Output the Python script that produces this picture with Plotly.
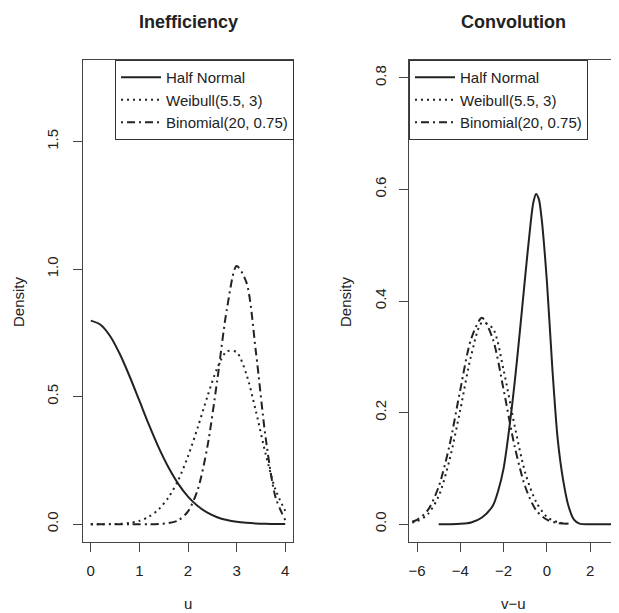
import plotly.graph_objects as go

# Left panel: densities of the inefficiency term u
u_grid = [0.0, 0.2, 0.4, 0.6, 0.8, 1.0, 1.2, 1.4, 1.6, 1.8, 2.0,
          2.2, 2.4, 2.6, 2.8, 3.0, 3.2, 3.4, 3.6, 3.8, 4.0]
halfnormal_u = [0.798, 0.782, 0.737, 0.666, 0.579, 0.484, 0.388, 0.299, 0.222, 0.158, 0.108,
                0.071, 0.045, 0.027, 0.016, 0.009, 0.005, 0.0025, 0.0012, 0.0006, 0.0003]
weibull_u = [0.0, 0.0, 0.0002, 0.0013, 0.0048, 0.013, 0.0295, 0.0585, 0.105, 0.173, 0.266,
             0.379, 0.501, 0.611, 0.678, 0.674, 0.589, 0.440, 0.273, 0.135, 0.052]
binomial_u = [0.0, 0.0, 0.0, 0.0, 0.0, 0.0, 0.0, 0.001, 0.004, 0.015, 0.050,
              0.135, 0.305, 0.562, 0.843, 1.012, 0.949, 0.670, 0.335, 0.106, 0.016]

# Right panel: densities of the composed error v-u
hn_x = [-5.0, -4.5, -4.0, -3.5, -3.0, -2.5, -2.25, -2.0, -1.75, -1.5, -1.25, -1.0, -0.75,
        -0.625, -0.5, -0.375, -0.25, 0.0, 0.25, 0.5, 0.75, 1.0, 1.25, 1.5, 2.0, 2.5, 3.0, 3.5]
hn_conv = [0.0, 0.0, 0.0005, 0.003, 0.012, 0.033, 0.060, 0.100, 0.168, 0.250, 0.345, 0.445, 0.540,
           0.577, 0.592, 0.583, 0.550, 0.435, 0.280, 0.152, 0.079, 0.032, 0.008, 0.001,
           0.0, 0.0, 0.0, 0.0]

cv_x = [-6.5, -6.0, -5.5, -5.0, -4.5, -4.0, -3.5, -3.0, -2.5, -2.0, -1.5, -1.0, -0.5, 0.0, 0.5, 1.0]
weibull_conv = [0.0017, 0.0052, 0.018, 0.050, 0.115, 0.205, 0.302, 0.361, 0.351, 0.276, 0.178,
                0.092, 0.040, 0.013, 0.0035, 0.0008]
binomial_conv = [0.0019, 0.0078, 0.025, 0.067, 0.141, 0.241, 0.332, 0.370, 0.332, 0.241, 0.141,
                 0.067, 0.025, 0.008, 0.002, 0.0004]

series_names = ["Half Normal", "Weibull(5.5, 3)", "Binomial(20, 0.75)"]
ink = "#222222"
dotted = "2px,4px"
dashdot = "2px,4px,8px,4px"
font = "Liberation Sans, Arial, sans-serif"

fig = go.Figure()

left = [(halfnormal_u, "solid"), (weibull_u, dotted), (binomial_u, dashdot)]
for name, (ys, dash) in zip(series_names, left):
    fig.add_trace(go.Scatter(
        x=u_grid, y=ys, mode="lines", name=name, legend="legend",
        line=dict(color=ink, width=2, dash=dash, shape="spline", smoothing=0.8),
        xaxis="x", yaxis="y",
    ))

right = [(hn_x, hn_conv, "solid"), (cv_x, weibull_conv, dotted), (cv_x, binomial_conv, dashdot)]
for name, (xs, ys, dash) in zip(series_names, right):
    fig.add_trace(go.Scatter(
        x=xs, y=ys, mode="lines", name=name, legend="legend2",
        line=dict(color=ink, width=2, dash=dash, shape="spline", smoothing=0.8),
        xaxis="x2", yaxis="y2",
    ))

axis_common = dict(
    showgrid=False, zeroline=False, showline=True, linecolor="#444", linewidth=1,
    ticks="outside", ticklen=9, tickcolor="#444", tickfont=dict(size=15, color=ink),
)

legend_common = dict(y=1, yanchor="top", bgcolor="white", bordercolor="#333", borderwidth=1,
                     font=dict(size=15), tracegroupgap=0, itemwidth=40)

# the page body adds 8px, so the figure itself is 8px smaller
fig.update_layout(
    width=611, height=605,
    margin=dict(l=75, r=0, t=52, b=71),
    paper_bgcolor="white", plot_bgcolor="white",
    font=dict(family=font, size=15, color=ink),
    xaxis=dict(axis_common, domain=[0, 0.3918], range=[-0.16, 4.16], mirror=True,
               tickvals=[0, 1, 2, 3, 4], ticklabelstandoff=6),
    yaxis=dict(axis_common, range=[-0.07, 1.82], mirror=True, anchor="x",
               tickvals=[0, 0.5, 1.0, 1.5], ticktext=["0.0", "0.5", "1.0", "1.5"],
               tickangle=-90, ticklabelstandoff=9),
    xaxis2=dict(axis_common, domain=[0.6082, 1], range=[-6.37, 3.33], mirror=True, anchor="y2",
                tickvals=[-6, -4, -2, 0, 2], ticklabelstandoff=6),
    yaxis2=dict(axis_common, range=[-0.032, 0.832], anchor="x2",
                tickvals=[0, 0.2, 0.4, 0.6, 0.8], ticktext=["0.0", "0.2", "0.4", "0.6", "0.8"],
                tickangle=-90, ticklabelstandoff=7),
    legend=dict(legend_common, x=0.3937, xanchor="right"),
    legend2=dict(legend_common, x=0.6082, xanchor="left"),
    showlegend=True,
)

# panel titles and axis labels
notes = [
    dict(text="<b>Inefficiency</b>", x=0.1959, y=1.0788, font=dict(size=18)),
    dict(text="<b>Convolution</b>", x=0.8041, y=1.0788, font=dict(size=18)),
    dict(text="u", x=0.1959, y=-0.128),
    dict(text="v\u2212u", x=0.8041, y=-0.128),
    dict(text="Density", x=-0.1213, y=0.5, textangle=-90),
    dict(text="Density", x=0.4888, y=0.5, textangle=-90),
]
for n in notes:
    fig.add_annotation(xref="paper", yref="paper", showarrow=False,
                       xanchor="center", yanchor="middle", **n)

fig.write_html("out.html")
